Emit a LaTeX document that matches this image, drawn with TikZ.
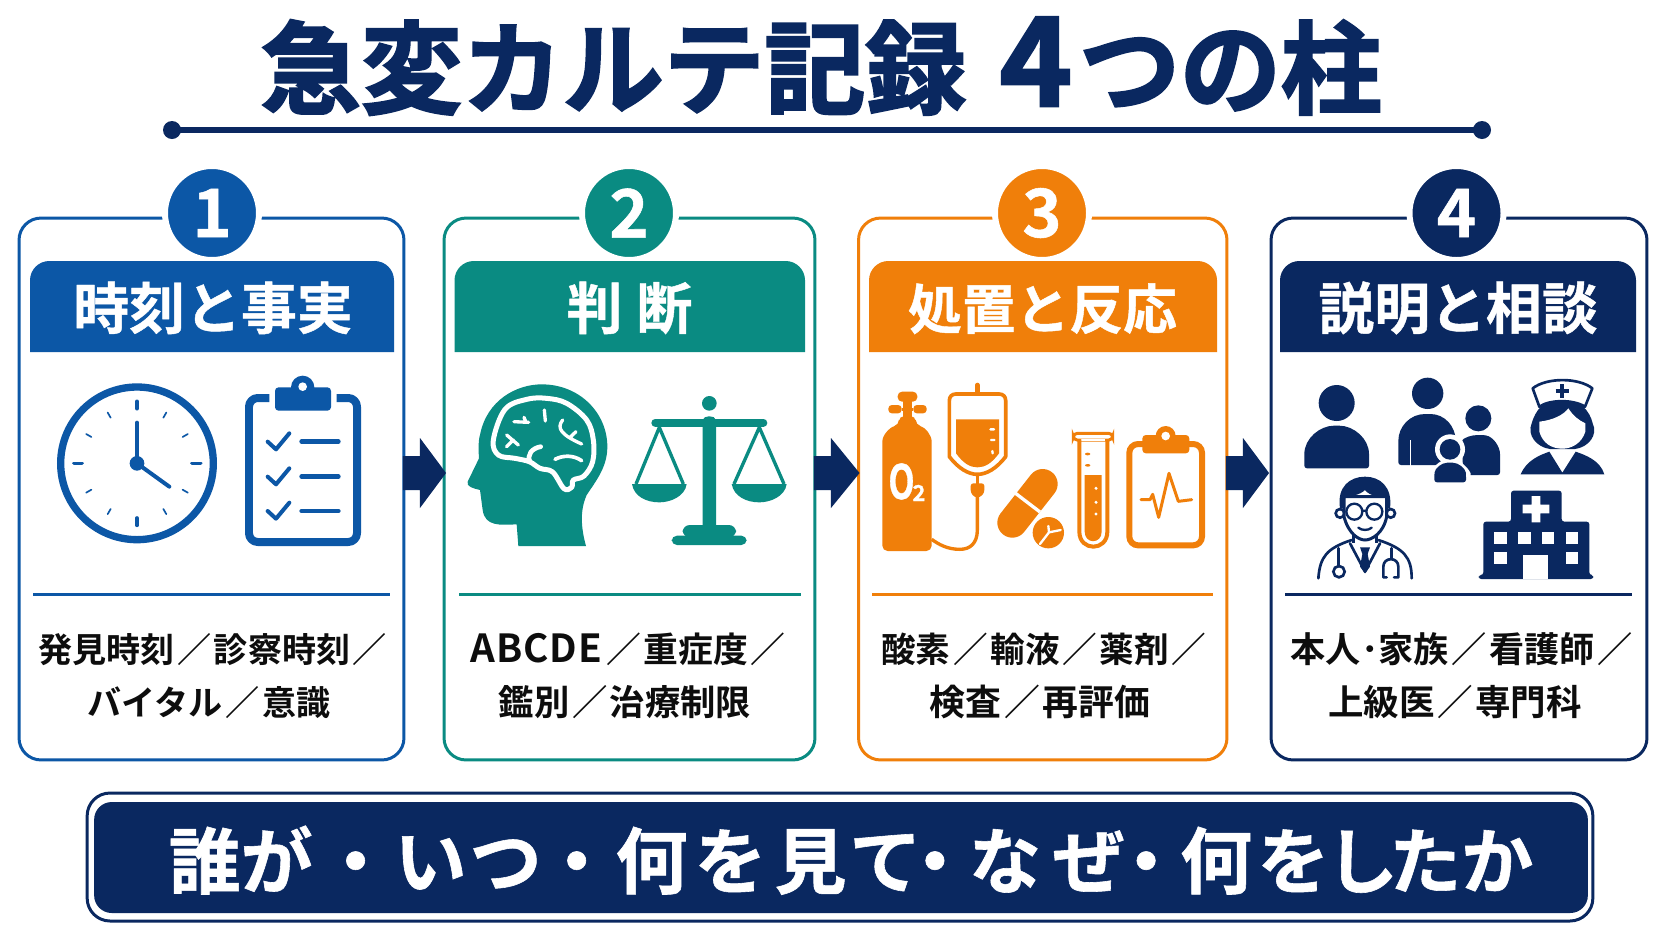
\documentclass[tikz,border=0pt]{standalone}
\usepackage{fontspec}
\usepackage{graphicx}
\usetikzlibrary{calc}
\newfontfamily\jpb[FakeBold=0.8]{Noto Sans CJK JP Bold}
\newfontfamily\jpt[FakeBold=2.2]{Noto Sans CJK JP Bold}
\newfontfamily\jpm{Noto Sans CJK JP Bold}
\definecolor{cblue}{HTML}{0C57A6}
\definecolor{cteal}{HTML}{0A8B82}
\definecolor{corange}{HTML}{F07F0A}
\definecolor{cnavy}{HTML}{0A2860}
\newcommand\slj{\kern1.5pt／\kern1.5pt}
\newcommand\szb[1]{\fontsize{#1}{20}\selectfont}
\tikzset{
  card/.style={draw=#1,fill=white,line width=1.7pt,rounded corners=12.5pt,inner sep=0pt,outer sep=0pt,anchor=center},
  numdot/.style={circle,fill=#1,draw=white,line width=3.4pt,minimum size=1.88cm,inner sep=0pt,text=white,font=\jpb\fontsize{38}{38}\selectfont},
  hdrtext/.style={anchor=base,text=white,inner sep=0pt,font=\jpb\fontsize{31.8}{32}\selectfont},
  bodytext/.style={anchor=base,text=black!95,inner sep=0pt,font=\jpm\fontsize{19.4}{20}\selectfont},
  zw/.style={line width=#1*0.1897pt},
  rl/.style={line cap=round,line join=round},
}
\newcommand\blockarrow[3]{%
  \fill[cnavy] ($(#1.east)+(-1,-33)$) -- ($(#1.east)+(16,-33)$) -- ($(#1.east)+(16,-51)$)
   -- ($(#2.west)+(#3,-16)$) -- ($(#1.east)+(16,19)$) -- ($(#1.east)+(16,1)$) -- ($(#1.east)+(-1,1)$) -- cycle;}
\begin{document}
\begin{tikzpicture}[x=0.02cm,y=-0.02cm]
\useasboundingbox (0,0) rectangle (1672,941);
\fill[white] (0,0) rectangle (1672,941);
% title
\node[anchor=base,inner sep=0pt,text=cnavy,font=\jpt\fontsize{57.4}{57}\selectfont] (title) at (821,106) {急変カルテ記録\hspace{19pt}{\fontsize{70}{57}\selectfont 4}\hspace{4pt}つの柱};
\coordinate (tl) at (172,130); \coordinate (tr) at (1482,130);
\draw[cnavy,line width=3.4pt] (tl) -- (tr);
\fill[cnavy] (tl) circle[radius=9] (tr) circle[radius=9];
% cards
\node[card=cblue,minimum width=7.7cm,minimum height=10.84cm] (card1) at (211.5,489) {};
\node[card=cteal,minimum width=7.42cm,minimum height=10.84cm] (card2) at (629.5,489) {};
\node[card=corange,minimum width=7.37cm,minimum height=10.84cm] (card3) at (1042.75,489) {};
\node[card=cnavy,minimum width=7.52cm,minimum height=10.84cm] (card4) at (1459,489) {};
% arrows
\blockarrow{card1}{card2}{2}
\blockarrow{card2}{card3}{1}
\blockarrow{card3}{card4}{-2}
% number dots
\node[numdot=cblue] (n1) at (212,213) {1};
\node[numdot=cteal] (n2) at (629,213) {2};
\node[numdot=corange] (n3) at (1042,213) {3};
\node[numdot=cnavy] (n4) at (1456.5,213) {4};
% headers
\fill[cblue] (30,352) [rounded corners=11pt] -- (30,261) -- (394,261) [sharp corners] -- (394,352) -- cycle;
\fill[cteal] (454.5,352) [rounded corners=11pt] -- (454.5,261) -- (805,261) [sharp corners] -- (805,352) -- cycle;
\fill[corange] (869,352) [rounded corners=11pt] -- (869,261) -- (1217,261) [sharp corners] -- (1217,352) -- cycle;
\fill[cnavy] (1280,352) [rounded corners=11pt] -- (1280,261) -- (1636,261) [sharp corners] -- (1636,352) -- cycle;
\node[hdrtext] (h1) at (213,329) {時刻と事実};
\node[hdrtext] (h2) at (629.5,329) {判\hspace{8pt}断};
\node[hdrtext,font=\jpb\fontsize{30.6}{32}\selectfont] (h3) at (1042.5,329) {処置と反応};
\node[hdrtext] (h4) at (1458,329) {説明と相談};
% separators
\draw[cblue,line width=1.7pt] (33,594) -- (390,594);
\draw[cteal,line width=1.7pt] (459,594) -- (801,594);
\draw[corange,line width=1.7pt] (872,594) -- (1213,594);
\draw[cnavy,line width=1.7pt] (1285,594) -- (1632,594);
% body text
\node[bodytext] (b1a) at (214,662) {発見時刻\slj 診察時刻\slj};
\node[bodytext] (b1b) at (209,715) {バイタル\slj 意識};
\node[bodytext] (b2a) at (629.5,662) {\szb{19.8}{\fontsize{22}{20}\selectfont A\kern.5pt B\kern.5pt C\kern.5pt D\kern.5pt E}\kern1pt\slj 重症度\slj};
\node[bodytext] (b2b) at (625,715) {\szb{20.1}鑑別\slj 治療制限};
\node[bodytext] (b3a) at (1045,662) {\szb{19.7}酸素\slj 輸液\slj 薬剤\slj};
\node[bodytext] (b3b) at (1040,715) {\szb{20.4}検査\slj 再評価};
\node[bodytext] (b4a) at (1463,662) {\szb{20}本人･家族\slj 看護師\slj};
\node[bodytext] (b4b) at (1455,715) {\szb{20.2}上級医\slj 専門科};
% banner
\node[draw=cnavy,fill=white,line width=1.7pt,rounded corners=13pt,minimum width=30.12cm,minimum height=2.56cm,inner sep=0pt] (bannerout) at (840,857) {};
\node[fill=cnavy,rounded corners=10pt,minimum width=29.88cm,minimum height=2.22cm,inner sep=0pt] (bannerin) at (841,857.5) {};
\node[anchor=base,inner sep=0pt,text=white,font=\jpb\fontsize{41}{41}\selectfont] (bannertext) at (851,888) {誰が\kern3.9pt・\kern1.7ptい\kern1.7ptつ\kern-.6pt・\kern1.7pt何\kern3.9ptを\kern4.5pt見\kern1.7ptて\kern-12.9pt・\kern-1.1ptな\kern6.7ptぜ\kern-8.4pt・\kern-1.1pt何\kern3ptを\kern-2ptし\kern-5ptたか};

%% ICONS card 1
\begin{scope}[shift={(0,140)},scale=1/3]
 \draw[cblue,zw=22] (411,970) circle[radius=229];
 \draw[cblue,zw=11,rl] (411,784)--(411,806) (411,1134)--(411,1156) (222,970)--(246,970) (576,970)--(602,970);
 \foreach \a in {30,60,120,150,210,240,300,330}{
  \draw[cblue,zw=5,rl] ($(411,970)+(\a:158)$) -- ($(411,970)+(\a:176)$);}
 \draw[cblue,zw=12,rl] (411,970)--(411,848) (411,970)--(508,1040);
 \fill[cblue] (411,970) circle[radius=22];
 % clipboard
 \draw[cblue,zw=24,line join=round,rounded corners=5pt] (808,774) -- (747,774) -- (747,1206) -- (1071,1206) -- (1071,774) -- (1010,774);
 \fill[cblue,rounded corners=2pt] (825,742) rectangle (993,812);
 \fill[cblue] (908,742) circle[radius=35];
 \fill[white] (908,740) circle[radius=13];
 \foreach \d in {0,105,208}{
  \draw[cblue,zw=12,rl] (803,905+\d)--(828,928+\d)--(868,880+\d);
  \draw[cblue,zw=14,rl] (905,905+\d)--(1015,905+\d);}
\end{scope}

%% ICONS card 2
\begin{scope}[shift={(430,340)},scale=1/3]
 \fill[cteal] (265,618) -- (260,553) .. controls (210,555) and (165,560) .. (158,510) -- (150,450) .. controls (130,445) and (108,440) .. (113,425) -- (147,355) .. controls (145,330) and (145,300) .. (150,285) .. controls (170,180) and (260,133) .. (335,133) .. controls (450,133) and (532,220) .. (532,320) .. controls (532,380) and (500,420) .. (470,465) .. controls (450,510) and (452,560) .. (468,618) -- cycle;
 \draw[white,zw=15,rl] plot[smooth cycle,tension=.6] coordinates {(190,300) (225,208) (290,178) (350,175) (410,190) (470,240) (490,300) (488,365) (462,408) (430,420) (425,442) (402,446) (368,396) (330,385) (298,365) (255,355) (205,345)};
 \draw[white,zw=14,rl] (332,320) .. controls (305,325) and (290,345) .. (300,365);
 \draw[white,zw=11,rl] (375,358) .. controls (400,345) and (430,345) .. (455,362);
 \draw[white,zw=10,rl] (252,245)--(296,247) (282,232)--(288,247) (343,210)--(346,243) (398,240) .. controls (378,265) and (395,285) .. (455,312) (420,292)--(438,275) (230,285)--(265,315) (230,320)--(250,300);
 % scale
 \fill[cteal] (838,190) circle[radius=22];
 \fill[cteal] (818,560) -- (818,240) .. controls (820,225) and (856,225) .. (858,240) -- (858,560) -- cycle;
 \draw[cteal,zw=24,rl] (676,248)--(1000,248);
 \fill[cteal,rounded corners=4pt] (758,592) -- (758,555) -- (918,555) -- (918,592) -- cycle;
 \fill[cteal,rounded corners=3pt] (725,615) -- (725,587) -- (950,587) -- (950,615) -- cycle;
 \draw[cteal,zw=10,line join=round] (618,432)--(688,262)--(760,432) (912,432)--(988,262)--(1062,432);
 \fill[cteal] (606,432) -- (770,432) .. controls (765,470) and (720,487) .. (688,487) .. controls (650,487) and (612,470) .. (606,432) -- cycle;
 \fill[cteal] (905,432) -- (1070,432) .. controls (1065,470) and (1020,487) .. (988,487) .. controls (950,487) and (912,470) .. (905,432) -- cycle;
\end{scope}

%% ICONS card 3
\begin{scope}[shift={(850,340)},scale=1/3]
 % cylinder
 \fill[corange,rounded corners=3pt] (97,633) -- (97,320) .. controls (97,285) and (120,262) .. (147,255) -- (147,228) -- (197,228) -- (197,255) .. controls (225,262) and (245,285) .. (245,320) -- (245,633) -- cycle;
 \fill[corange] (158,175) rectangle (186,232);
 \fill[corange,rounded corners=2.5pt] (143,155) rectangle (202,185);
 \fill[corange,rounded corners=2pt] (115,195) rectangle (155,220);
 \fill[corange,rounded corners=2pt] (190,195) rectangle (230,220);
 \fill[corange] (155,203) rectangle (190,213);
 % tube
 \draw[corange,zw=10] (382,465) -- (382,570) .. controls (382,610) and (360,628) .. (330,628) .. controls (290,628) and (265,612) .. (245,598);
 % bag
 \draw[corange,zw=14,line cap=round] (382,135)--(382,160);
 \draw[corange,zw=11,line join=round] (318,162) -- (447,162) .. controls (460,162) and (467,170) .. (467,182) -- (467,350) .. controls (440,385) and (410,403) .. (382,403) .. controls (355,403) and (325,385) .. (298,350) -- (298,182) .. controls (298,170) and (305,162) .. (318,162) -- cycle;
 \fill[corange] (318,238) -- (447,238) -- (447,340) .. controls (425,370) and (405,382) .. (382,382) .. controls (360,382) and (340,370) .. (318,340) -- cycle;
 \draw[white,zw=7,rl] (421,268)--(432,268) (423,300)--(433,300) (427,333)--(428,340);
 \draw[corange,zw=9] (382,403)--(382,432);
 \fill[corange,rounded corners=1.5pt] (362,430) -- (403,430) -- (403,458) -- (390,472) -- (374,472) -- (362,458) -- cycle;
 % capsule
 \draw[corange,zw=90,line cap=round] (487,548)--(578,432);
 \draw[white,zw=10] (494,458)--(570,516);
 \fill[white] (595,578) circle[radius=53];
 \fill[corange] (595,578) circle[radius=47];
 \draw[white,zw=7,rl] (570,612)--(597,577)--(595,558) (597,577)--(632,570);
 % test tube
 \draw[corange,zw=9,rounded corners=2.2pt] (670,280) rectangle (788,300);
 \fill[white] (694,296) rectangle (766,304);
 \draw[corange,zw=12] (688,298) -- (688,575) .. controls (688,635) and (772,635) .. (772,575) -- (772,298);
 \fill[corange] (704,405) -- (755,405) -- (755,575) .. controls (755,613) and (704,613) .. (704,575) -- cycle;
 \fill[white] (738,445) circle[radius=5] (738,487) circle[radius=5] (738,522) circle[radius=5];
 \fill[corange] (713,342) ellipse[x radius=8,y radius=4] (713,376) ellipse[x radius=8,y radius=4];
 % monitor clipboard
 \draw[corange,zw=18,rounded corners=5pt] (838,312) rectangle (1056,616);
 \fill[corange,rounded corners=2pt] (877,285) rectangle (1018,340);
 \fill[corange] (947,288) circle[radius=30];
 \fill[white] (947,288) circle[radius=13];
 \draw[corange,zw=9,rl] (873,479)--(900,479)--(908,463)--(926,532)--(957,400)--(985,484)--(1025,479);
\end{scope}
\node[inner sep=0pt,text=white,anchor=base,font=\jpb\fontsize{27}{27}\selectfont] (o2o) at (901.5,499) {\scalebox{.72}[1]{O}};
\node[inner sep=0pt,text=white,anchor=base,font=\jpb\fontsize{12.5}{13}\selectfont] (o2n) at (919,501) {2};

%% ICONS card 4
\begin{scope}[shift={(1270,340)},scale=1/3]
 % person
 \fill[cnavy] (200,189) circle[radius=54];
 \fill[cnavy,rounded corners=1.5pt] (103,385) -- (103,350) .. controls (103,295) and (150,257) .. (200,257) .. controls (250,257) and (297,295) .. (297,350) -- (297,385) -- cycle;
 % family
 \fill[cnavy] (473,160) circle[radius=47];
 \fill[cnavy,rounded corners=1.5pt] (385,375) -- (385,310) .. controls (385,260) and (420,222) .. (473,222) .. controls (525,222) and (557,260) .. (557,310) -- (557,375) -- cycle;
 \draw[white,zw=3] (421,300)--(421,378);
 \fill[cnavy] (625,235) circle[radius=39];
 \fill[cnavy,rounded corners=1.5pt] (580,405) -- (575,300) .. controls (600,285) and (620,285) .. (640,285) .. controls (670,290) and (690,320) .. (690,350) -- (690,405) -- cycle;
 \fill[white] (540,328) circle[radius=45];
 \fill[white] (480,440) -- (480,400) .. controls (490,375) and (520,355) .. (540,355) .. controls (560,355) and (590,375) .. (602,400) -- (602,440) -- cycle;
 \fill[cnavy] (540,328) circle[radius=31];
 \fill[cnavy,rounded corners=1.5pt] (493,427) -- (493,405) .. controls (495,385) and (515,368) .. (540,368) .. controls (565,368) and (586,385) .. (588,405) -- (588,427) -- cycle;
 % nurse
 \fill[cnavy] (752,403) .. controls (770,360) and (810,345) .. (838,335) -- (877,398) -- (917,335) .. controls (945,345) and (990,360) .. (1003,403) -- cycle;
 \fill[cnavy] (875,175) .. controls (820,175) and (795,215) .. (785,250) .. controls (770,285) and (800,322) .. (840,327) -- (915,327) .. controls (955,322) and (985,285) .. (968,250) .. controls (960,215) and (930,175) .. (875,175) -- cycle;
 \fill[white] (808,245) .. controls (850,240) and (880,225) .. (895,205) .. controls (910,228) and (925,240) .. (946,250) -- (946,275) .. controls (935,310) and (905,326) .. (877,326) .. controls (845,326) and (818,310) .. (808,275) -- cycle;
 \draw[cnavy,zw=8,line join=round,fill=white] (788,145) .. controls (830,112) and (925,112) .. (967,145) -- (945,200) .. controls (910,178) and (840,178) .. (808,200) -- cycle;
 \draw[cnavy,zw=12] (877,133)--(877,173) (857,153)--(897,153);
 % doctor
 \draw[cnavy,zw=8,rl] (145,715) .. controls (150,650) and (170,625) .. (245,600) (325,600) .. controls (400,625) and (425,650) .. (425,715);
 \draw[cnavy,zw=8,rl] (240,610)--(285,695)--(330,610);
 \draw[cnavy,zw=8] (250,575)--(250,610) (320,575)--(320,610);
 \fill[cnavy] (270,622) -- (300,622) -- (293,642) -- (300,680) -- (285,700) -- (270,680) -- (277,642) -- cycle;
 \draw[cnavy,zw=8,rl] (205,625)--(205,678);
 \draw[cnavy,zw=8] (207,695) circle[radius=17];
 \draw[cnavy,zw=8,rl] (365,625)--(365,655);
 \draw[cnavy,zw=8,rl] (350,712) -- (340,712) -- (340,680) .. controls (340,650) and (385,650) .. (385,680) -- (385,712) -- (372,712);
 \draw[cnavy,zw=8] (210,520) circle[radius=13] (362,520) circle[radius=13];
 \draw[cnavy,zw=9,fill=white] (222,470) -- (222,530) .. controls (235,580) and (265,600) .. (285,600) .. controls (305,600) and (340,580) .. (350,530) -- (350,470) -- cycle;
 \fill[cnavy] (210,505) .. controls (200,440) and (240,410) .. (285,410) .. controls (330,410) and (368,440) .. (360,505) -- (350,505) -- (350,470) .. controls (330,470) and (300,470) .. (285,450) .. controls (270,465) and (240,470) .. (225,470) -- (222,505) -- cycle;
 \draw[cnavy,zw=7] (253,515) circle[radius=24] (313,515) circle[radius=24] (277,512)--(289,512);
 \draw[cnavy,zw=7,rl] (265,563) .. controls (275,572) and (295,572) .. (305,563);
 % hospital
 \fill[cnavy,rounded corners=1.5pt] (626,717) -- (626,705) -- (640,705) -- (640,545) -- (723,545) -- (723,452) -- (875,452) -- (875,545) -- (958,545) -- (958,705) -- (970,705) -- (970,717) -- cycle;
 \fill[white] (760,717) -- (760,645) -- (835,645) -- (835,717) -- cycle;
 \foreach \wx in {673,745,815,887}{\fill[white] (\wx,577) rectangle (\wx+38,612);}
 \foreach \wx in {673,887}{\fill[white] (\wx,637) rectangle (\wx+38,672);}
 \fill[white] (785,468) rectangle (811,547) (758,494) rectangle (838,520);
\end{scope}
\end{tikzpicture}
\end{document}
